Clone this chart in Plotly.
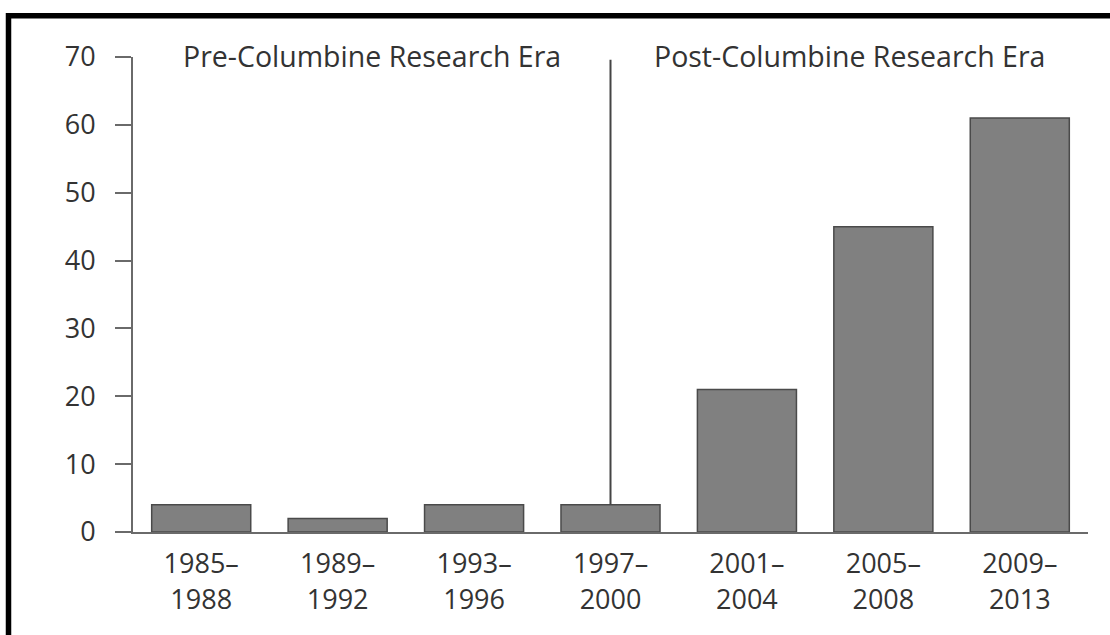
import plotly.graph_objects as go

periods = ["1985–<br>1988", "1989–<br>1992", "1993–<br>1996", "1997–<br>2000",
           "2001–<br>2004", "2005–<br>2008", "2009–<br>2013"]
counts = [4, 2, 4, 4, 21, 45, 61]
y_ticks = [0, 10, 20, 30, 40, 50, 60, 70]
era_labels = ["Pre-Columbine Research Era", "Post-Columbine Research Era"]
divider_index = 3  # Columbine (1999) falls in the 1997–2000 period

FONT = "'Open Sans', Lato, sans-serif"
TEXT = "#333333"
AXIS = "#6a6a6a"
FS = 27
FS_ANN = 28.5

fig = go.Figure()
fig.add_trace(go.Bar(
    x=periods, y=counts,
    marker=dict(color="#808080", line=dict(color="#4a4a4a", width=1.5)),
    hoverinfo="x+y",
))

W, H = 1110, 635
L, R, T, B = 133, 22, 57, 102.5
pw, ph = W - L - R, H - T - B

def px(xp):
    return (xp - L) / pw

def py(yp):
    return (H - B - yp) / ph

shapes = [
    dict(type="line", xref="x", yref="y", x0=divider_index, x1=divider_index,
         y0=counts[divider_index], y1=69.6, line=dict(color="#444444", width=2)),
    dict(type="line", xref="paper", yref="paper", x0=px(6), x1=px(1115),
         y0=py(15.7), y1=py(15.7), line=dict(color="#000000", width=5.5)),
    dict(type="line", xref="paper", yref="paper", x0=px(8.5), x1=px(8.5),
         y0=py(13), y1=py(640), line=dict(color="#000000", width=5.5)),
]

annotations = [
    dict(text=era_labels[0], xref="paper", yref="paper", x=px(371.7), y=py(56),
         showarrow=False, xanchor="center", yanchor="middle",
         font=dict(family=FONT, size=FS_ANN, color=TEXT)),
    dict(text=era_labels[1], xref="paper", yref="paper", x=px(849), y=py(56),
         showarrow=False, xanchor="center", yanchor="middle",
         font=dict(family=FONT, size=FS_ANN, color=TEXT)),
]

fig.update_layout(
    width=W, height=H,
    margin=dict(l=L, r=R, t=T, b=B, pad=0),
    paper_bgcolor="white", plot_bgcolor="white",
    bargap=0.274,
    showlegend=False,
    font=dict(family=FONT, size=FS, color=TEXT),
    shapes=shapes,
    annotations=annotations,
)
fig.update_xaxes(
    type="category", range=[-0.5, 6.5],
    showline=True, linecolor=AXIS, linewidth=2,
    ticks="", showgrid=False, zeroline=False,
    tickfont=dict(family=FONT, size=FS, color=TEXT),
    ticklabelstandoff=7,
)
fig.update_yaxes(
    range=[0, 70], tickvals=y_ticks,
    showline=True, linecolor=AXIS, linewidth=2,
    ticks="outside", ticklen=16, tickwidth=2, tickcolor=AXIS,
    showgrid=False, zeroline=False,
    tickfont=dict(family=FONT, size=FS, color=TEXT),
    ticklabelstandoff=14,
)

fig.write_html("out.html", config={"displayModeBar": False},
               post_script="document.body.style.margin='0';document.body.style.overflow='hidden';")
